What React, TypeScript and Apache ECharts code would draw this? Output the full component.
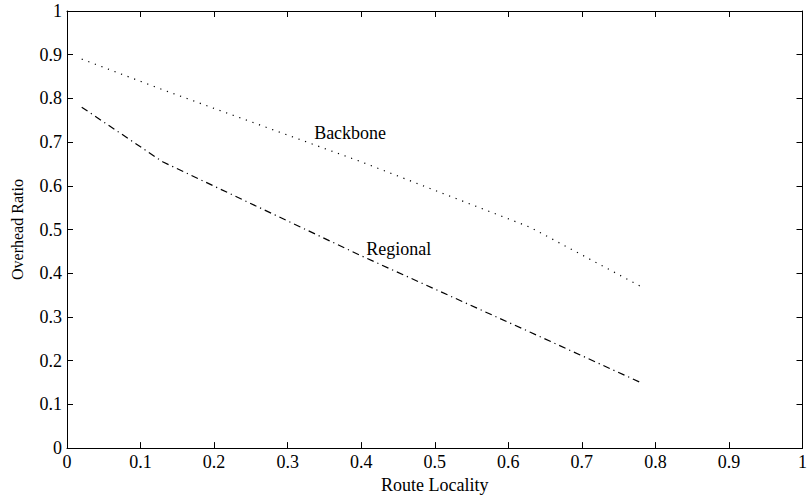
import React, { useEffect, useRef } from "react";
import * as echarts from "echarts";

const backboneX = [0.02, 0.13, 0.4, 0.63, 0.78];
const backboneY = [0.89, 0.82, 0.655, 0.505, 0.37];
const regionalX = [0.02, 0.13, 0.4, 0.63, 0.78];
const regionalY = [0.78, 0.655, 0.44, 0.265, 0.15];
const annotations = [
  { text: "Backbone", x: 0.336, y: 0.72 },
  { text: "Regional", x: 0.407, y: 0.456 },
];

const FONT = "'Liberation Serif', 'Times New Roman', serif";

export default function App() {
  const ref = useRef<HTMLDivElement>(null);
  useEffect(() => {
    if (!ref.current) return;
    const chart = echarts.init(ref.current, undefined, { renderer: "svg" });
    const axisCommon = {
      type: "value",
      min: 0,
      max: 1,
      interval: 0.1,
      axisLine: { show: true, onZero: false, lineStyle: { color: "#000", width: 1 } },
      axisTick: { show: true, inside: true, length: 6, lineStyle: { color: "#000" } },
      splitLine: { show: false },
    };
    const labelStyle = { color: "#000", fontFamily: FONT, fontSize: 18 };
    chart.setOption({
      animation: false,
      backgroundColor: "#fff",
      grid: { left: 67, right: 4, top: 11, bottom: 45, containLabel: false },
      xAxis: [
        {
          ...axisCommon,
          position: "bottom",
          name: "Route Locality",
          nameLocation: "middle",
          nameGap: 27,
          nameTextStyle: { color: "#000", fontFamily: FONT, fontSize: 18 },
          axisLabel: { ...labelStyle, margin: 5 },
        },
        { ...axisCommon, position: "top", axisLabel: { show: false } },
      ],
      yAxis: [
        {
          ...axisCommon,
          position: "left",
          name: "Overhead Ratio",
          nameLocation: "middle",
          nameGap: 42,
          nameTextStyle: { color: "#000", fontFamily: FONT, fontSize: 16 },
          axisLabel: { ...labelStyle, margin: 5 },
        },
        { ...axisCommon, position: "right", axisLabel: { show: false } },
      ],
      series: [
        {
          name: "Backbone",
          type: "line",
          data: backboneX.map((x, i) => [x, backboneY[i]]),
          symbol: "none",
          lineStyle: { color: "#000", width: 1.2, type: [1.2, 5.8] },
        },
        {
          name: "Regional",
          type: "line",
          data: regionalX.map((x, i) => [x, regionalY[i]]),
          symbol: "none",
          lineStyle: { color: "#000", width: 1.2, type: [7, 4, 1.2, 4] },
        },
      ],
    });
    const graphics = annotations.map((a) => {
      const p = chart.convertToPixel({ xAxisIndex: 0, yAxisIndex: 0 }, [a.x, a.y]) as number[];
      return {
        type: "text",
        x: p[0],
        y: p[1],
        style: {
          text: a.text,
          fill: "#000",
          font: `18px ${FONT}`,
          textAlign: "left",
          textVerticalAlign: "middle",
        },
      };
    });
    chart.setOption({ graphic: graphics });
    return () => chart.dispose();
  }, []);
  return (
    <div
      ref={ref}
      style={{ position: "fixed", left: 0, top: 0, width: 810, height: 499, background: "#fff" }}
    />
  );
}
